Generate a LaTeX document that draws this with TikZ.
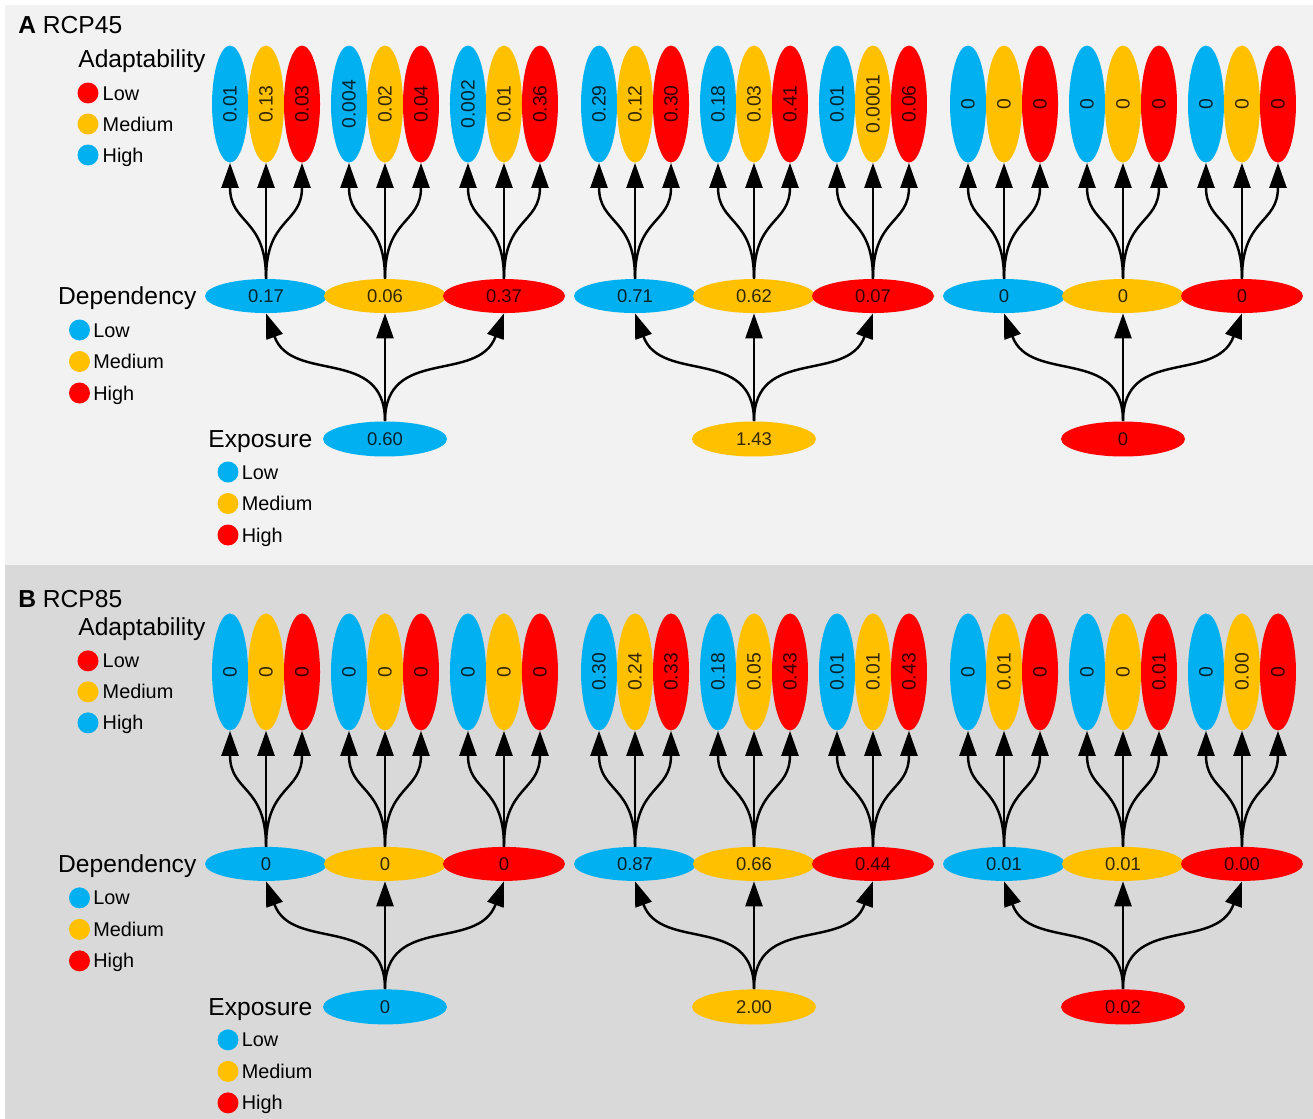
\documentclass[tikz,border=0pt]{standalone}
\usepackage{fontspec}
\setmainfont{Liberation Sans}
\usepackage{graphicx}
\usetikzlibrary{shapes.geometric, positioning, arrows.meta}

\definecolor{cblue}{HTML}{00B0F0}
\definecolor{cyel}{HTML}{FFC000}
\definecolor{cred}{HTML}{FF0000}
\definecolor{bgA}{HTML}{F2F2F2}
\definecolor{bgB}{HTML}{D9D9D9}
\colorlet{col1}{cblue}
\colorlet{col2}{cyel}
\colorlet{col3}{cred}

\begin{document}
\begin{tikzpicture}
	[x=0.02cm, y=-0.02cm,
	 num/.style={ellipse, inner sep=0pt, text opacity=0.8, font=\fontsize{10.5}{12}\selectfont},
	 expo/.style={num, minimum width=2.48cm, minimum height=0.7cm},
	 dep/.style={num, on grid, minimum width=2.44cm, minimum height=0.68cm},
	 adapt/.style={num, on grid, minimum width=0.72cm, minimum height=2.34cm, font=\fontsize{11}{12}\selectfont},
	 dot/.style={circle, inner sep=0pt, minimum size=0.42cm},
	 lgd/.style={inner sep=0pt, text height=8pt, text depth=0pt, font=\fontsize{11.3}{13}\selectfont},
	 ttl/.style={inner sep=0pt, text height=10pt, text depth=0pt, font=\fontsize{14}{16}\selectfont},
	 arr/.style={-{Triangle[length=5mm, width=3.4mm]}, line width=1.4pt}]

   \useasboundingbox (0,0) rectangle (1313,1119);
   \fill[bgA] (5,5) rectangle (1313,565);
   \fill[bgB] (5,565) rectangle (1313,1119);

   % panel A
   \node[ttl, anchor=base west] (A-title) at (18,33) {\textbf{A} RCP45};
   \node[ttl, anchor=base west] (A-adapt) at (78,68) {Adaptability};
   \foreach \i/\v in {1/0.60, 2/1.43, 3/0}
     \node[expo, fill=col\i] (A-e\i) at ({16+369*\i},439) {\v};
   \foreach \i/\j/\v in {1/1/0.17, 1/2/0.06, 1/3/0.37, 2/1/0.71, 2/2/0.62, 2/3/0.07, 3/1/0, 3/2/0, 3/3/0}
     \node[dep, fill=col\j, above=2.86cm of A-e\i, xshift={(\j-2)*2.38cm}] (A-d\i\j) {\v};
   \foreach \i/\j/\k/\v in {1/1/1/0.01, 1/1/2/0.13, 1/1/3/0.03, 1/2/1/0.004, 1/2/2/0.02, 1/2/3/0.04,
                            1/3/1/0.002, 1/3/2/0.01, 1/3/3/0.36, 2/1/1/0.29, 2/1/2/0.12, 2/1/3/0.30,
                            2/2/1/0.18, 2/2/2/0.03, 2/2/3/0.41, 2/3/1/0.01, 2/3/2/0.0001, 2/3/3/0.06,
                            3/1/1/0, 3/1/2/0, 3/1/3/0, 3/2/1/0, 3/2/2/0, 3/2/3/0, 3/3/1/0, 3/3/2/0, 3/3/3/0}
     \node[adapt, fill=col\k, above=3.84cm of A-d\i\j, xshift={(\k-2)*0.72cm}] (A-a\i\j\k) {\rotatebox{90}{\v}};
   \node[ttl, left=0.16cm of A-d11] (A-dep) {Dependency};
   \node[ttl, left=0.2cm of A-e1] (A-exp) {Exposure};
   \foreach \t/\c [count=\r] in {Low/cred, Medium/cyel, High/cblue} {
     \node[dot, fill=\c] (A-la\r) at (88,{62+31*\r}) {};
     \node[lgd, right=2pt of A-la\r] (A-lat\r) {\t};
   }
   \foreach \t/\c [count=\r] in {Low/cblue, Medium/cyel, High/cred} {
     \node[dot, fill=\c] (A-ld\r) at (79.5,{298.5+31.5*\r}) {};
     \node[lgd, right=1.5pt of A-ld\r] (A-ldt\r) {\t};
     \node[dot, fill=\c] (A-le\r) at (228,{440.5+31.5*\r}) {};
     \node[lgd, right=1.5pt of A-le\r] (A-let\r) {\t};
   }
   \foreach \i in {1,2,3}
     \foreach \j in {1,2,3} {
       \draw[arr] (A-e\i.north) to[out=90, in={-90+20*(2-\j)}, looseness=1.2] (A-d\i\j.south);
       \foreach \k in {1,2,3}
         \draw[arr] (A-d\i\j.north) to[out=90, in=-90, looseness=1.3] (A-a\i\j\k.south);
     }

   % panel B
   \begin{scope}[yshift=-11.36cm]
   \node[ttl, anchor=base west] (B-title) at (18,40) {\textbf{B} RCP85};
   \node[ttl, anchor=base west] (B-adapt) at (78,68) {Adaptability};
   \foreach \i/\v in {1/0, 2/2.00, 3/0.02}
     \node[expo, fill=col\i] (B-e\i) at ({16+369*\i},439) {\v};
   \foreach \i/\j/\v in {1/1/0, 1/2/0, 1/3/0, 2/1/0.87, 2/2/0.66, 2/3/0.44, 3/1/0.01, 3/2/0.01, 3/3/0.00}
     \node[dep, fill=col\j, above=2.86cm of B-e\i, xshift={(\j-2)*2.38cm}] (B-d\i\j) {\v};
   \foreach \i/\j/\k/\v in {1/1/1/0, 1/1/2/0, 1/1/3/0, 1/2/1/0, 1/2/2/0, 1/2/3/0, 1/3/1/0, 1/3/2/0, 1/3/3/0,
                            2/1/1/0.30, 2/1/2/0.24, 2/1/3/0.33, 2/2/1/0.18, 2/2/2/0.05, 2/2/3/0.43,
                            2/3/1/0.01, 2/3/2/0.01, 2/3/3/0.43, 3/1/1/0, 3/1/2/0.01, 3/1/3/0,
                            3/2/1/0, 3/2/2/0, 3/2/3/0.01, 3/3/1/0, 3/3/2/0.00, 3/3/3/0}
     \node[adapt, fill=col\k, above=3.84cm of B-d\i\j, xshift={(\k-2)*0.72cm}] (B-a\i\j\k) {\rotatebox{90}{\v}};
   \node[ttl, left=0.16cm of B-d11] (B-dep) {Dependency};
   \node[ttl, left=0.2cm of B-e1] (B-exp) {Exposure};
   \foreach \t/\c [count=\r] in {Low/cred, Medium/cyel, High/cblue} {
     \node[dot, fill=\c] (B-la\r) at (88,{62+31*\r}) {};
     \node[lgd, right=2pt of B-la\r] (B-lat\r) {\t};
   }
   \foreach \t/\c [count=\r] in {Low/cblue, Medium/cyel, High/cred} {
     \node[dot, fill=\c] (B-ld\r) at (79.5,{298.5+31.5*\r}) {};
     \node[lgd, right=1.5pt of B-ld\r] (B-ldt\r) {\t};
     \node[dot, fill=\c] (B-le\r) at (228,{440.5+31.5*\r}) {};
     \node[lgd, right=1.5pt of B-le\r] (B-let\r) {\t};
   }
   \foreach \i in {1,2,3}
     \foreach \j in {1,2,3} {
       \draw[arr] (B-e\i.north) to[out=90, in={-90+20*(2-\j)}, looseness=1.2] (B-d\i\j.south);
       \foreach \k in {1,2,3}
         \draw[arr] (B-d\i\j.north) to[out=90, in=-90, looseness=1.3] (B-a\i\j\k.south);
     }
   \end{scope}

\end{tikzpicture}
\end{document}
